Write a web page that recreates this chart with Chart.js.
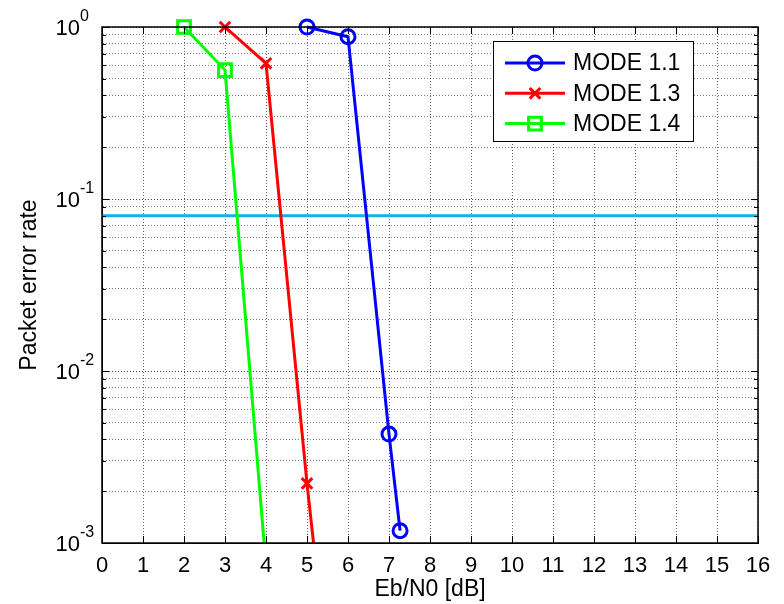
<!DOCTYPE html>
<html>
<head>
<meta charset="utf-8">
<script src="https://cdn.jsdelivr.net/npm/chart.js@4.4.1/dist/chart.umd.min.js"></script>
<style>
  html, body { margin: 0; padding: 0; background: #fff; }
  #wrap { width: 784px; height: 604px; }
</style>
</head>
<body>
<div id="wrap"><canvas id="perChart" width="784" height="604"></canvas></div>
<script>
// Packet error rate vs Eb/N0 – semilogy plot in MATLAB look

const modeLabels = ['MODE 1.1', 'MODE 1.3', 'MODE 1.4'];
const modeColors = ['#0000ff', '#ff0000', '#00ff00'];

const ebn0Mode11 = [5, 6, 7, 7.27];
const perMode11  = [1.0, 0.878, 0.0043, 0.00118];

const ebn0Mode13 = [3, 4, 5, 6];
const perMode13  = [1.0, 0.615, 0.00222, 0.000015];

const ebn0Mode14 = [2, 3, 4];
const perMode14  = [1.0, 0.562, 0.00074];

// target PER line
const targetX   = [0, 16];
const targetPer = [0.08, 0.08];

// axes
const xMin = 0, xMax = 16;
const yDecades = [-3, -2, -1, 0];
const yMinorSteps = [2, 3, 4, 5, 6, 7, 8, 9];

const FONT = "'Liberation Sans', Arial, sans-serif";
Chart.defaults.font.family = FONT;
Chart.defaults.color = '#000';

function toPoints(xs, ys) {
  return xs.map((x, i) => ({ x: x, y: ys[i] }));
}

// log tick values: every decade plus 2..9 in between
function buildLogTicks() {
  const ticks = [];
  yDecades.forEach((e, i) => {
    ticks.push({ value: Math.pow(10, e), major: true });
    if (i < yDecades.length - 1) {
      yMinorSteps.forEach(m => ticks.push({ value: m * Math.pow(10, e), major: false }));
    }
  });
  return ticks;
}

const markerStyles = ['circle', 'crossRot', 'rect'];
const markerRadius = [7, 7.5, 9];

const clipTopOpen = { left: 0, top: false, right: 0, bottom: 0 };

function modeDataset(i, xs, ys) {
  return {
    label: modeLabels[i],
    data: toPoints(xs, ys),
    borderColor: modeColors[i],
    borderWidth: 3,
    pointStyle: markerStyles[i],
    pointRadius: markerRadius[i],
    pointBorderWidth: 3,
    pointBorderColor: modeColors[i],
    pointBackgroundColor: 'rgba(0,0,0,0)',
    tension: 0,
    clip: clipTopOpen
  };
}

// frame, inner ticks, 10^x labels and legend
const matlabLook = {
  id: 'matlabLook',
  afterDraw(chart) {
    const ctx = chart.ctx;
    const a = chart.chartArea;
    const xs = chart.scales.x;
    const ys = chart.scales.y;
    ctx.save();

    // box
    ctx.strokeStyle = '#000';
    ctx.lineWidth = 1.5;
    ctx.strokeRect(a.left, a.top, a.right - a.left, a.bottom - a.top);

    // inner ticks
    ctx.lineWidth = 1;
    ctx.beginPath();
    xs.ticks.forEach(t => {
      const px = Math.round(xs.getPixelForValue(t.value)) + 0.5;
      ctx.moveTo(px, a.bottom); ctx.lineTo(px, a.bottom - 7);
      ctx.moveTo(px, a.top); ctx.lineTo(px, a.top + 7);
    });
    ys.ticks.forEach(t => {
      const py = Math.round(ys.getPixelForValue(t.value)) + 0.5;
      const len = t.major ? 7 : 4;
      ctx.moveTo(a.left, py); ctx.lineTo(a.left + len, py);
      ctx.moveTo(a.right, py); ctx.lineTo(a.right - len, py);
    });
    ctx.stroke();

    // y labels 10^e
    ctx.fillStyle = '#000';
    ctx.textBaseline = 'alphabetic';
    yDecades.forEach(e => {
      const py = ys.getPixelForValue(Math.pow(10, e));
      const xr = 80;
      ctx.font = '22px ' + FONT;
      ctx.textAlign = 'right';
      ctx.fillText('10', xr, py + 8);
      ctx.font = '16px ' + FONT;
      ctx.textAlign = 'left';
      ctx.fillText(e === 0 ? '0' : '-' + Math.abs(e), xr, py - 6);
    });

    // legend
    const lw = 200, lh = 100;
    const lx = a.right - 65 - lw, ly = a.top + 14;
    ctx.fillStyle = '#fff';
    ctx.fillRect(lx, ly, lw, lh);
    ctx.strokeStyle = '#000';
    ctx.lineWidth = 1;
    ctx.strokeRect(lx + 0.5, ly + 0.5, lw, lh);
    ctx.font = '23px ' + FONT;
    ctx.textBaseline = 'middle';
    ctx.textAlign = 'left';
    modeLabels.forEach((lab, i) => {
      const cy = ly + 22 + i * 30.3;
      const col = modeColors[i];
      ctx.strokeStyle = col;
      ctx.lineWidth = 3;
      ctx.beginPath();
      ctx.moveTo(lx + 12, cy); ctx.lineTo(lx + 72, cy);
      ctx.stroke();
      const mx = lx + 42;
      ctx.beginPath();
      if (markerStyles[i] === 'circle') {
        ctx.arc(mx, cy, 7, 0, Math.PI * 2);
      } else if (markerStyles[i] === 'crossRot') {
        const d = 5.3;
        ctx.moveTo(mx - d, cy - d); ctx.lineTo(mx + d, cy + d);
        ctx.moveTo(mx + d, cy - d); ctx.lineTo(mx - d, cy + d);
      } else {
        ctx.rect(mx - 6.4, cy - 6.4, 12.8, 12.8);
      }
      ctx.stroke();
      ctx.fillStyle = '#000';
      ctx.fillText(lab, lx + 80, cy + 1);
    });

    ctx.restore();
  }
};

const gridColor = 'rgba(0,0,0,0.6)';

new Chart(document.getElementById('perChart'), {
  type: 'line',
  data: {
    datasets: [
      modeDataset(0, ebn0Mode11, perMode11),
      modeDataset(1, ebn0Mode13, perMode13),
      modeDataset(2, ebn0Mode14, perMode14),
      {
        label: 'target',
        data: toPoints(targetX, targetPer),
        borderColor: '#12b2e8',
        borderWidth: 3,
        pointRadius: 0,
        tension: 0,
        clip: 0
      }
    ]
  },
  options: {
    responsive: false,
    animation: false,
    layout: { padding: { left: 0, right: 26, top: 27, bottom: 0 } },
    plugins: {
      legend: { display: false },
      tooltip: { enabled: false }
    },
    scales: {
      x: {
        type: 'linear',
        min: xMin,
        max: xMax,
        ticks: { stepSize: 1, font: { size: 22 }, padding: 10, maxRotation: 0, autoSkip: false },
        grid: { color: gridColor, lineWidth: 1, drawTicks: false },
        border: { display: true, color: '#000', width: 1, dash: [1, 2] },
        title: { display: true, text: 'Eb/N0 [dB]', font: { size: 23 }, padding: { top: 0, bottom: 1 } },
        afterFit: s => { s.height = 61; }
      },
      y: {
        type: 'logarithmic',
        min: Math.pow(10, yDecades[0]),
        max: Math.pow(10, yDecades[yDecades.length - 1]),
        afterBuildTicks: s => { s.ticks = buildLogTicks(); },
        ticks: { display: false },
        grid: {
          color: c => (c.tick && c.tick.major) ? 'rgba(0,0,0,0.75)' : 'rgba(0,0,0,0.5)',
          lineWidth: 1,
          drawTicks: false
        },
        border: { display: true, color: '#000', width: 1, dash: [1, 2] },
        title: { display: true, text: 'Packet error rate', font: { size: 23 }, padding: { top: 16, bottom: 0 } },
        afterFit: s => { s.width = 102; }
      }
    }
  },
  plugins: [matlabLook]
});
</script>
</body>
</html>
